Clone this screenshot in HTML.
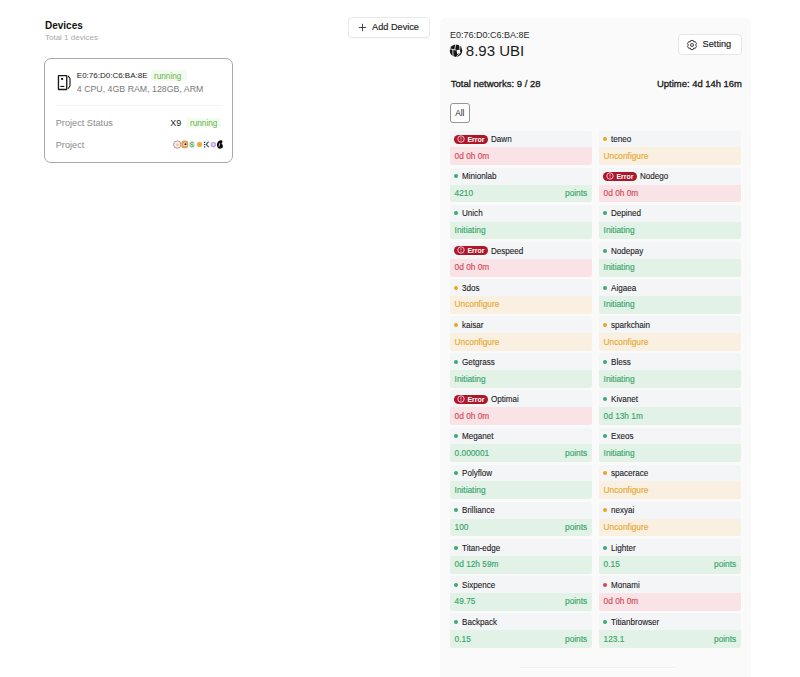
<!DOCTYPE html>
<html><head><meta charset="utf-8"><style>
*{box-sizing:border-box;margin:0;padding:0}
html,body{width:800px;height:677px;overflow:hidden;background:#fff}
body{position:relative;font-family:"Liberation Sans",sans-serif;color:#1f1f1f}
.a{position:absolute;white-space:nowrap;line-height:1}
.panel{position:absolute;left:439.6px;top:17.5px;width:311.8px;height:680px;background:#fafafa;border-radius:5px}
.card{position:absolute;width:142.6px;height:34.2px}
.hd{position:absolute;left:0;top:0;width:142.6px;height:16.8px;background:#f4f5f7;border-radius:2px 2px 0 0}
.bd{position:absolute;left:0;top:16.8px;width:142.6px;height:17.8px;border-radius:0 0 2px 2px}
.bd span{position:absolute;left:5px;top:4.6px;font-size:8.3px;font-weight:400;line-height:1;white-space:nowrap;-webkit-text-stroke:0.16px currentColor;transform:scaleX(1.0);transform-origin:0 0}
.bd span.pts{left:auto;right:5px;transform-origin:100% 0}
.br{background:#f9e3e6} .br span{color:#d24b59}
.bg{background:#e2f2e7} .bg span{color:#3ba66c}
.bo{background:#faf0e2} .bo span{color:#e5aa35}
.dot{position:absolute;left:4.5px;top:6.6px;width:4px;height:4px;border-radius:50%}
.dg{background:#3aa877} .do{background:#e9a521} .dr{background:#e0414f}
.nm{position:absolute;left:12px;top:4.6px;font-size:8.6px;line-height:1;color:#1a1a1a;white-space:nowrap;-webkit-text-stroke:0.1px #1a1a1a;transform:scaleX(0.94);transform-origin:0 0}
.nm.en{left:41px}
.err{position:absolute;left:4.8px;top:4.2px;width:33.2px;height:9px;border-radius:5px;background:#ae1629}
.err svg{position:absolute;left:2.2px;top:0.3px}
.err b{position:absolute;left:13px;top:1.2px;font-size:7px;line-height:1;font-weight:700;color:#fff}
</style></head><body>
<div class="a" style="left:45px;top:20.8px;font-size:10px;font-weight:700;color:#111">Devices</div>
<div class="a" style="left:45px;top:34px;font-size:8px;color:#a9a9a9">Total 1 devices</div>

<div style="position:absolute;left:44px;top:58.1px;width:189.1px;height:104.8px;border:1px solid #a8a8a8;border-radius:7px"></div>
<svg style="position:absolute;left:56px;top:73px" width="16" height="18" viewBox="0 0 16 18">
<rect x="2.45" y="2.55" width="8.3" height="13.9" fill="none" stroke="#1a1a1a" stroke-width="1.35" rx="0.5"/>
<circle cx="6.1" cy="5.9" r="1.15" fill="#111"/>
<rect x="4.3" y="12.9" width="4" height="1.1" fill="#1a1a1a"/>
<path d="M12.1 2.8 L14 5.6 V13 L12.1 15.8" fill="none" stroke="#1a1a1a" stroke-width="1.15" stroke-linejoin="round"/>
</svg>
<div class="a" style="left:76.8px;top:72.4px;font-size:8px;color:#1a1a1a">E0:76:D0:C6:BA:8E</div>
<div style="position:absolute;left:151px;top:70.4px;width:35.8px;height:10.4px;background:#f3fbee;border-radius:2px"></div>
<div class="a" style="left:154px;top:72.8px;font-size:8.2px;color:#64b24a">running</div>
<div class="a" style="left:76.8px;top:85.2px;font-size:8.8px;color:#7a7a7a">4 CPU, 4GB RAM, 128GB, ARM</div>
<div style="position:absolute;left:56px;top:105.2px;width:166px;height:1px;background:#f3f3f3"></div>
<div class="a" style="left:55.7px;top:119.4px;font-size:9.2px;color:#8a8a8a">Project Status</div>
<div class="a" style="left:170.2px;top:119.2px;font-size:9px;color:#1a1a1a">X9</div>
<div style="position:absolute;left:186.3px;top:117.6px;width:35px;height:10.6px;background:#f4fbef;border-radius:2px"></div>
<div class="a" style="left:190px;top:120.4px;font-size:8.2px;color:#64b24a">running</div>
<div class="a" style="left:55.7px;top:140.8px;font-size:9.2px;color:#8a8a8a">Project</div>
<svg style="position:absolute;left:172px;top:138px" width="54" height="14" viewBox="0 0 54 14">
<circle cx="5.25" cy="6.6" r="3.7" fill="#fbe9e2" stroke="#a08e8e" stroke-width="0.9"/>
<path d="M4 6.8 Q5.2 5.2 6.6 6.4 Q6 8.2 4.6 7.6" fill="none" stroke="#f0b48a" stroke-width="0.9"/>
<rect x="9.3" y="2.5" width="6.9" height="7.8" rx="2.4" fill="#eb9a55"/>
<circle cx="13.2" cy="6.4" r="1.9" fill="#fff3e6"/>
<circle cx="13.5" cy="6.3" r="1.05" fill="#111"/>
<circle cx="19.9" cy="6.5" r="3.0" fill="#bfe5c3"/>
<path d="M21.6 4.3 Q19 3.5 18.5 5.4 Q18.6 6.6 20.4 6.7 Q22 7.2 21 8.6 Q19.6 9.4 18.3 8.4" fill="none" stroke="#4fae68" stroke-width="1"/>
<circle cx="27.5" cy="6.4" r="2.7" fill="#f2b24a"/>
<circle cx="27.5" cy="6.4" r="1" fill="#e59a2e"/>
<path d="M32.6 3.8 v1.1 M32.6 6 v1.1 M32.6 8.2 v1.2" stroke="#1e2350" stroke-width="1.3"/>
<path d="M36.6 3.6 L34.2 6.4 L36.8 9.2" stroke="#3b5050" stroke-width="1.1" fill="none"/>
<circle cx="41.4" cy="6.6" r="2.8" fill="#c9a3ea"/>
<circle cx="41.4" cy="6.4" r="1.1" fill="#f3e6fb"/>
<path d="M46.2 3.4 Q48.5 1.6 50.2 2.6 Q51 4 49.6 5.4 Q51.4 7 50.8 9.6 Q48.6 11.4 46.3 10.3 Q44.4 8.6 45 6.2 Q45.2 4.4 46.2 3.4 Z" fill="#0a0a0a"/>
<path d="M47.8 5.2 L47 8.4" stroke="#fff" stroke-width="0.8"/>
</svg>

<div style="position:absolute;left:348px;top:17px;width:81.5px;height:20.8px;background:#fff;border:1px solid #e9e9e9;border-radius:4px;box-shadow:0 1px 1px rgba(0,0,0,0.03)"></div>
<svg style="position:absolute;left:358px;top:22.9px" width="9" height="9" viewBox="0 0 9 9"><path d="M4.5 0.8v7.4M0.8 4.5h7.4" stroke="#333" stroke-width="0.9"/></svg>
<div class="a" style="left:372px;top:23.4px;font-size:9.2px;color:#222;-webkit-text-stroke:0.15px #222">Add Device</div>

<div class="panel"></div>
<div class="a" style="left:450px;top:30.6px;font-size:9px;color:#2a2a2a">E0:76:D0:C6:BA:8E</div>
<svg style="position:absolute;left:446px;top:42px" width="20" height="18" viewBox="0 0 20 18">
<circle cx="10" cy="8.65" r="6.25" fill="#151515"/>
<path d="M9.9 2.2 L8.6 7.7 M3.6 6.9 L10.3 8.1 M6.8 8 L7.1 14.6 M13.6 2.9 L13.9 7.6 M10.4 14.6 L14.6 10.6" stroke="#fafafa" stroke-width="0.85" fill="none"/>
<path d="M10.6 8.2 L13.9 7.4 L14.3 10.4 L11.2 12.3 Z" fill="#fafafa"/>
</svg>
<div class="a" style="left:465.8px;top:43.2px;font-size:15px;color:#1a1a1a">8.93 UBI</div>

<div style="position:absolute;left:678.3px;top:34.2px;width:63.3px;height:20.6px;background:#fff;border:1px solid #e6e6e6;border-radius:4px"></div>
<svg style="position:absolute;left:686.4px;top:38.8px" width="12" height="12" viewBox="0 0 12 12"><path fill="none" stroke="#333" stroke-width="0.95" stroke-linejoin="round" d="M7.75 2.97 L7.22 1.46 L4.78 1.46 L4.25 2.97 L4.25 2.97 L2.68 2.68 L1.46 4.78 L2.50 6.00 L2.50 6.00 L1.46 7.22 L2.68 9.32 L4.25 9.03 L4.25 9.03 L4.78 10.54 L7.22 10.54 L7.75 9.03 L7.75 9.03 L9.32 9.32 L10.54 7.22 L9.50 6.00 L9.50 6.00 L10.54 4.78 L9.32 2.68 L7.75 2.97Z"/><circle cx="6" cy="6" r="1.5" fill="none" stroke="#333" stroke-width="0.95"/></svg>
<div class="a" style="left:702.6px;top:40.2px;font-size:9.2px;color:#222;-webkit-text-stroke:0.15px #222">Setting</div>

<div class="a" style="left:450.8px;top:78.6px;font-size:9.5px;font-weight:400;color:#1a1a1a;-webkit-text-stroke:0.32px #1a1a1a">Total networks: 9 / 28</div>
<div class="a" style="left:657px;top:79.1px;font-size:9.45px;font-weight:400;color:#1a1a1a;-webkit-text-stroke:0.32px #1a1a1a">Uptime: 4d 14h 16m</div>

<div style="position:absolute;left:449.8px;top:103.2px;width:20.2px;height:19.6px;background:#fff;border:1px solid #959595;border-radius:3px"></div>
<div class="a" style="left:455.2px;top:109.4px;font-size:8.3px;color:#1a1a1a">All</div>

<div class="card" style="left:449.6px;top:130.60px"><div class="hd"><span class="err"><svg width="8" height="8" viewBox="0 0 16 16"><circle cx="8" cy="8" r="6.4" fill="none" stroke="#fde" stroke-width="1.7"/><rect x="7.2" y="4.4" width="1.6" height="4.6" fill="#fde"/><rect x="7.2" y="10.1" width="1.6" height="1.4" fill="#fde"/></svg><b>Error</b></span><span class="nm en">Dawn</span></div><div class="bd br"><span>0d 0h 0m</span></div></div>
<div class="card" style="left:449.6px;top:167.72px"><div class="hd"><span class="dot dg"></span><span class="nm">Minionlab</span></div><div class="bd bg"><span>4210</span><span class="pts">points</span></div></div>
<div class="card" style="left:449.6px;top:204.84px"><div class="hd"><span class="dot dg"></span><span class="nm">Unich</span></div><div class="bd bg"><span>Initiating</span></div></div>
<div class="card" style="left:449.6px;top:241.96px"><div class="hd"><span class="err"><svg width="8" height="8" viewBox="0 0 16 16"><circle cx="8" cy="8" r="6.4" fill="none" stroke="#fde" stroke-width="1.7"/><rect x="7.2" y="4.4" width="1.6" height="4.6" fill="#fde"/><rect x="7.2" y="10.1" width="1.6" height="1.4" fill="#fde"/></svg><b>Error</b></span><span class="nm en">Despeed</span></div><div class="bd br"><span>0d 0h 0m</span></div></div>
<div class="card" style="left:449.6px;top:279.08px"><div class="hd"><span class="dot do"></span><span class="nm">3dos</span></div><div class="bd bo"><span>Unconfigure</span></div></div>
<div class="card" style="left:449.6px;top:316.20px"><div class="hd"><span class="dot do"></span><span class="nm">kaisar</span></div><div class="bd bo"><span>Unconfigure</span></div></div>
<div class="card" style="left:449.6px;top:353.32px"><div class="hd"><span class="dot dg"></span><span class="nm">Getgrass</span></div><div class="bd bg"><span>Initiating</span></div></div>
<div class="card" style="left:449.6px;top:390.44px"><div class="hd"><span class="err"><svg width="8" height="8" viewBox="0 0 16 16"><circle cx="8" cy="8" r="6.4" fill="none" stroke="#fde" stroke-width="1.7"/><rect x="7.2" y="4.4" width="1.6" height="4.6" fill="#fde"/><rect x="7.2" y="10.1" width="1.6" height="1.4" fill="#fde"/></svg><b>Error</b></span><span class="nm en">Optimai</span></div><div class="bd br"><span>0d 0h 0m</span></div></div>
<div class="card" style="left:449.6px;top:427.56px"><div class="hd"><span class="dot dg"></span><span class="nm">Meganet</span></div><div class="bd bg"><span>0.000001</span><span class="pts">points</span></div></div>
<div class="card" style="left:449.6px;top:464.68px"><div class="hd"><span class="dot dg"></span><span class="nm">Polyflow</span></div><div class="bd bg"><span>Initiating</span></div></div>
<div class="card" style="left:449.6px;top:501.80px"><div class="hd"><span class="dot dg"></span><span class="nm">Brilliance</span></div><div class="bd bg"><span>100</span><span class="pts">points</span></div></div>
<div class="card" style="left:449.6px;top:538.92px"><div class="hd"><span class="dot dg"></span><span class="nm">Titan-edge</span></div><div class="bd bg"><span>0d 12h 59m</span></div></div>
<div class="card" style="left:449.6px;top:576.04px"><div class="hd"><span class="dot dg"></span><span class="nm">Sixpence</span></div><div class="bd bg"><span>49.75</span><span class="pts">points</span></div></div>
<div class="card" style="left:449.6px;top:613.16px"><div class="hd"><span class="dot dg"></span><span class="nm">Backpack</span></div><div class="bd bg"><span>0.15</span><span class="pts">points</span></div></div>
<div class="card" style="left:598.6px;top:130.60px"><div class="hd"><span class="dot do"></span><span class="nm">teneo</span></div><div class="bd bo"><span>Unconfigure</span></div></div>
<div class="card" style="left:598.6px;top:167.72px"><div class="hd"><span class="err"><svg width="8" height="8" viewBox="0 0 16 16"><circle cx="8" cy="8" r="6.4" fill="none" stroke="#fde" stroke-width="1.7"/><rect x="7.2" y="4.4" width="1.6" height="4.6" fill="#fde"/><rect x="7.2" y="10.1" width="1.6" height="1.4" fill="#fde"/></svg><b>Error</b></span><span class="nm en">Nodego</span></div><div class="bd br"><span>0d 0h 0m</span></div></div>
<div class="card" style="left:598.6px;top:204.84px"><div class="hd"><span class="dot dg"></span><span class="nm">Depined</span></div><div class="bd bg"><span>Initiating</span></div></div>
<div class="card" style="left:598.6px;top:241.96px"><div class="hd"><span class="dot dg"></span><span class="nm">Nodepay</span></div><div class="bd bg"><span>Initiating</span></div></div>
<div class="card" style="left:598.6px;top:279.08px"><div class="hd"><span class="dot dg"></span><span class="nm">Aigaea</span></div><div class="bd bg"><span>Initiating</span></div></div>
<div class="card" style="left:598.6px;top:316.20px"><div class="hd"><span class="dot do"></span><span class="nm">sparkchain</span></div><div class="bd bo"><span>Unconfigure</span></div></div>
<div class="card" style="left:598.6px;top:353.32px"><div class="hd"><span class="dot dg"></span><span class="nm">Bless</span></div><div class="bd bg"><span>Initiating</span></div></div>
<div class="card" style="left:598.6px;top:390.44px"><div class="hd"><span class="dot dg"></span><span class="nm">Kivanet</span></div><div class="bd bg"><span>0d 13h 1m</span></div></div>
<div class="card" style="left:598.6px;top:427.56px"><div class="hd"><span class="dot dg"></span><span class="nm">Exeos</span></div><div class="bd bg"><span>Initiating</span></div></div>
<div class="card" style="left:598.6px;top:464.68px"><div class="hd"><span class="dot do"></span><span class="nm">spacerace</span></div><div class="bd bo"><span>Unconfigure</span></div></div>
<div class="card" style="left:598.6px;top:501.80px"><div class="hd"><span class="dot do"></span><span class="nm">nexyai</span></div><div class="bd bo"><span>Unconfigure</span></div></div>
<div class="card" style="left:598.6px;top:538.92px"><div class="hd"><span class="dot dg"></span><span class="nm">Lighter</span></div><div class="bd bg"><span>0.15</span><span class="pts">points</span></div></div>
<div class="card" style="left:598.6px;top:576.04px"><div class="hd"><span class="dot dr"></span><span class="nm">Monami</span></div><div class="bd br"><span>0d 0h 0m</span></div></div>
<div class="card" style="left:598.6px;top:613.16px"><div class="hd"><span class="dot dg"></span><span class="nm">Titianbrowser</span></div><div class="bd bg"><span>123.1</span><span class="pts">points</span></div></div>
<div style="position:absolute;left:520px;top:666.8px;width:155px;height:1px;background:#f1f1f1"></div><div style="position:absolute;left:520px;top:668px;width:155px;height:1px;background:#fff"></div>
</body></html>
